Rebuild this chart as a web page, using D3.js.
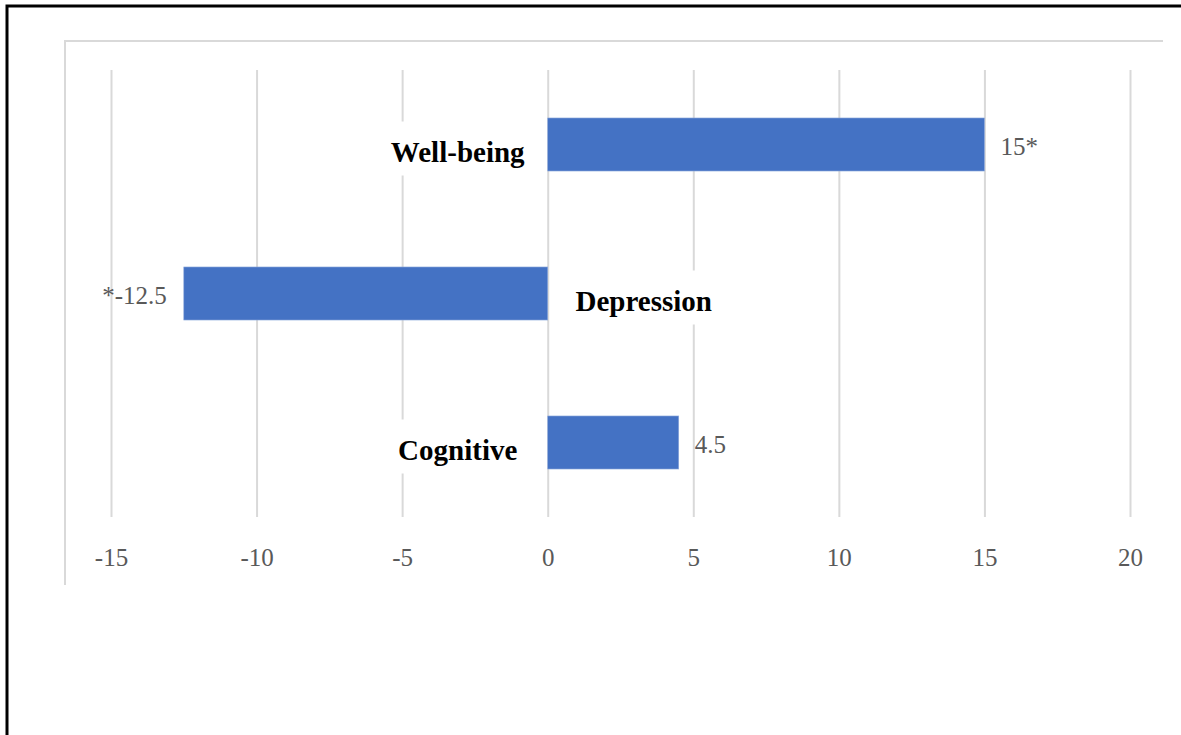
<!DOCTYPE html>
<html>
<head>
<meta charset="utf-8">
<script src="https://cdn.jsdelivr.net/npm/d3@7"></script>
<style>
  html, body { margin: 0; padding: 0; background: #ffffff; }
  svg { display: block; }
</style>
</head>
<body>
<svg id="chart" width="1181" height="735"></svg>
<script>
// Outcome categories, effect sizes (%), and which effects are significant
const categories = ["Well-being", "Depression", "Cognitive"];
const values = [15, -12.5, 4.5];
const significant = [true, true, false];
const tickValues = [-15, -10, -5, 0, 5, 10, 15, 20];

const svg = d3.select("#chart");
const serif = "'Palatino Linotype', 'Book Antiqua', Palatino, 'Liberation Serif', serif";
const gridColor = "#d9d9d9";
const barColor = "#4472c4";
const labelGray = "#595959";

// Frame: heavy outer rule and light inner panel edge
svg.append("path")
  .attr("d", "M7,735 V6 H1181")
  .attr("fill", "none").attr("stroke", "#000").attr("stroke-width", 3);
svg.append("path")
  .attr("d", "M65,585 V41 H1163")
  .attr("fill", "none").attr("stroke", gridColor).attr("stroke-width", 2);

const plot = { left: 111, right: 1130, top: 70, bottom: 517 };

const x = d3.scaleLinear()
  .domain([d3.min(tickValues), d3.max(tickValues)])
  .range([plot.left, plot.right]);

const y = d3.scaleBand()
  .domain(categories)
  .range([plot.top, plot.bottom])
  .paddingInner(0.644)
  .paddingOuter(0.322);

// Vertical gridlines and value axis labels
const axis = svg.append("g")
  .attr("transform", `translate(0,${plot.bottom})`)
  .call(d3.axisBottom(x)
    .tickValues(tickValues)
    .tickSize(-(plot.bottom - plot.top))
    .tickPadding(31)
    .tickFormat(d3.format("d")));
axis.select(".domain").remove();
axis.selectAll(".tick line")
  .attr("stroke", gridColor).attr("stroke-width", 2);
axis.selectAll(".tick text")
  .attr("fill", labelGray)
  .style("font-family", serif)
  .style("font-size", "25px");
// d3.format uses a true minus sign; show a plain hyphen like the axis labels
axis.selectAll(".tick text").text(d => String(d));

const rows = categories.map((c, i) => ({ cat: c, v: values[i], sig: significant[i] }));

// Bars grow from zero
svg.append("g").selectAll("rect")
  .data(rows)
  .join("rect")
  .attr("x", d => x(Math.min(0, d.v)))
  .attr("y", d => y(d.cat))
  .attr("width", d => Math.abs(x(d.v) - x(0)))
  .attr("height", y.bandwidth())
  .attr("fill", barColor)
  .attr("stroke", "#8faadc")
  .attr("stroke-width", 0.6);

// Value labels at the bar ends
svg.append("g").selectAll("text")
  .data(rows)
  .join("text")
  .attr("x", d => d.v >= 0 ? x(d.v) + 16 : x(d.v) - 17)
  .attr("y", d => y(d.cat) + y.bandwidth() / 2 + 10)
  .attr("text-anchor", d => d.v >= 0 ? "start" : "end")
  .attr("fill", labelGray)
  .style("font-family", serif)
  .style("font-size", "25px")
  .text(d => d.sig ? (d.v >= 0 ? `${d.v}*` : `*${d.v}`) : `${d.v}`);

// Category labels on the opposite side of the zero line, on a white box
const catG = svg.append("g");
rows.forEach(d => {
  const g = catG.append("g");
  const box = g.append("rect").attr("fill", "#ffffff");
  const t = g.append("text")
    .attr("x", d.v >= 0 ? x(0) - 90 : x(0) + 96)
    .attr("y", y(d.cat) + y.bandwidth() / 2 + 17)
    .attr("text-anchor", "middle")
    .attr("fill", "#000")
    .style("font-family", serif)
    .style("font-size", "29px")
    .style("font-weight", "bold")
    .text(d.cat);
  const bb = t.node().getBBox();
  box.attr("x", bb.x - 14).attr("y", bb.y - 14)
    .attr("width", bb.width + 28).attr("height", bb.height + 22);
});
</script>
</body>
</html>
